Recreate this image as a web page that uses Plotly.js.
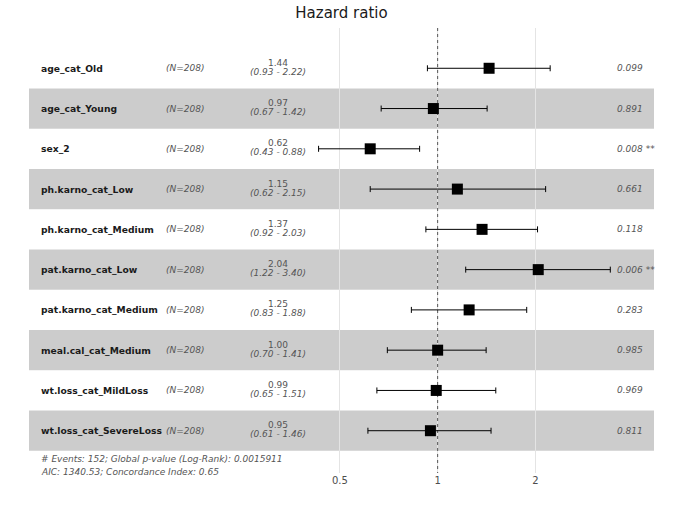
<!DOCTYPE html>
<html>
<head>
<meta charset="utf-8">
<script src="https://cdn.plot.ly/plotly-3.0.1.min.js"></script>
<style>html,body{margin:0;padding:0;background:#fff;}#chart{width:680px;height:510px;}</style>
</head>
<body>
<div id="chart"></div>
<script>
const variables = ["age_cat_Old","age_cat_Young","sex_2","ph.karno_cat_Low","ph.karno_cat_Medium","pat.karno_cat_Low","pat.karno_cat_Medium","meal.cal_cat_Medium","wt.loss_cat_MildLoss","wt.loss_cat_SevereLoss"];
const nObs = [208,208,208,208,208,208,208,208,208,208];
const hr = [1.44,0.97,0.62,1.15,1.37,2.04,1.25,1.00,0.99,0.95];
const ciLow = [0.93,0.67,0.43,0.62,0.92,1.22,0.83,0.70,0.65,0.61];
const ciHigh = [2.22,1.42,0.88,2.15,2.03,3.40,1.88,1.41,1.51,1.46];
const pValues = [0.099,0.891,0.008,0.661,0.118,0.006,0.283,0.985,0.969,0.811];
const tickVals = [0.5,1,2];
const tickText = ["0.5","1","2"];
const refHR = 1;
const footLines = ["# Events: 152; Global p-value (Log-Rank): 0.0015911","AIC: 1340.53; Concordance Index: 0.65"];

const rows = variables.map((_, i) => i + 1);
const font = "DejaVu Sans, sans-serif";
const Y_TOP = 0.0, Y_BOT = 11.05;

function stars(p){ return (p < 0.05 ? "*" : "") + (p < 0.01 ? "*" : "") + (p < 0.001 ? "*" : ""); }

const shapes = [];
rows.forEach(r => {
  shapes.push({type:"rect", xref:"paper", yref:"y", x0:0, x1:1, y0:r-0.5, y1:r+0.5,
    fillcolor: r % 2 === 0 ? "rgba(0,0,0,0.2)" : "rgba(255,255,255,0.2)", line:{width:0}, layer:"between"});
});

const annotations = [];
const colName = 0.0165, colN = 0.2165, colHR = 0.3984, colP = 0.9376;
variables.forEach((v, i) => {
  const r = rows[i];
  annotations.push({xref:"paper", yref:"y", x:colName, y:r, xanchor:"left", yanchor:"middle", showarrow:false,
    text:"<b>"+v+"</b>", font:{family:font, size:9.2, color:"#1a1a1a"}});
  annotations.push({xref:"paper", yref:"y", x:colN, y:r, xanchor:"left", yanchor:"middle", showarrow:false,
    text:"<i>(N="+nObs[i]+")</i>", font:{family:font, size:9, color:"#555555"}});
  annotations.push({xref:"paper", yref:"y", x:colHR, y:r, xanchor:"center", yanchor:"middle", yshift:5.5, showarrow:false,
    text:hr[i].toFixed(2), font:{family:font, size:9, color:"#555555"}});
  annotations.push({xref:"paper", yref:"y", x:colHR, y:r, xanchor:"center", yanchor:"middle", yshift:-3.5, showarrow:false,
    text:"<i>("+ciLow[i].toFixed(2)+" - "+ciHigh[i].toFixed(2)+")</i>", font:{family:font, size:9, color:"#555555"}});
  const s = stars(pValues[i]);
  annotations.push({xref:"paper", yref:"y", x:colP, y:r, xanchor:"left", yanchor:"middle", showarrow:false,
    text:"<i>"+pValues[i].toFixed(3)+(s ? " "+s : "")+"</i>", font:{family:font, size:9, color:"#555555"}});
});
footLines.forEach((t, k) => {
  annotations.push({xref:"paper", yref:"paper", x:colName, y:(Y_BOT - (10.7 + 0.32*k)) / (Y_BOT - Y_TOP),
    xanchor:"left", yanchor:"middle", showarrow:false,
    text:"<i>"+t+"</i>", font:{family:font, size:9, color:"#555555"}});
});

const traces = [
  {type:"scatter", mode:"lines", x:[refHR, refHR], y:[Y_TOP, Y_BOT], hoverinfo:"skip",
   line:{color:"#555555", width:1, dash:"dot"}, showlegend:false},
  {type:"scatter", mode:"markers", x:hr, y:rows, showlegend:false,
   marker:{symbol:"square", size:11, color:"#000000"},
   error_x:{type:"data", symmetric:false, array:hr.map((h,i)=>ciHigh[i]-h), arrayminus:hr.map((h,i)=>h-ciLow[i]),
            color:"#000000", thickness:1, width:3}}
];

const layout = {
  width:680, height:510,
  margin:{l:29, r:26, t:28, b:37},
  paper_bgcolor:"#ffffff", plot_bgcolor:"#ffffff",
  title:{text:"Hazard ratio", x:0.5, xref:"paper", xanchor:"center", y:1-13/510, yref:"container", yanchor:"middle",
    font:{family:font, size:15, color:"#1a1a1a"}},
  xaxis:{type:"log", range:[-1.258, 0.666], autorange:false, tickvals:tickVals, ticktext:tickText,
    showgrid:true, gridcolor:"#e4e4e4", gridwidth:1, zeroline:false, showline:false, ticks:"",
    tickfont:{family:font, size:10, color:"#4d4d4d"}, fixedrange:true},
  yaxis:{range:[Y_BOT, Y_TOP], autorange:false, showgrid:false, zeroline:false, showline:false,
    showticklabels:false, ticks:"", fixedrange:true},
  shapes:shapes, annotations:annotations, showlegend:false
};

Plotly.newPlot("chart", traces, layout, {staticPlot:true, displayModeBar:false});
</script>
</body>
</html>
